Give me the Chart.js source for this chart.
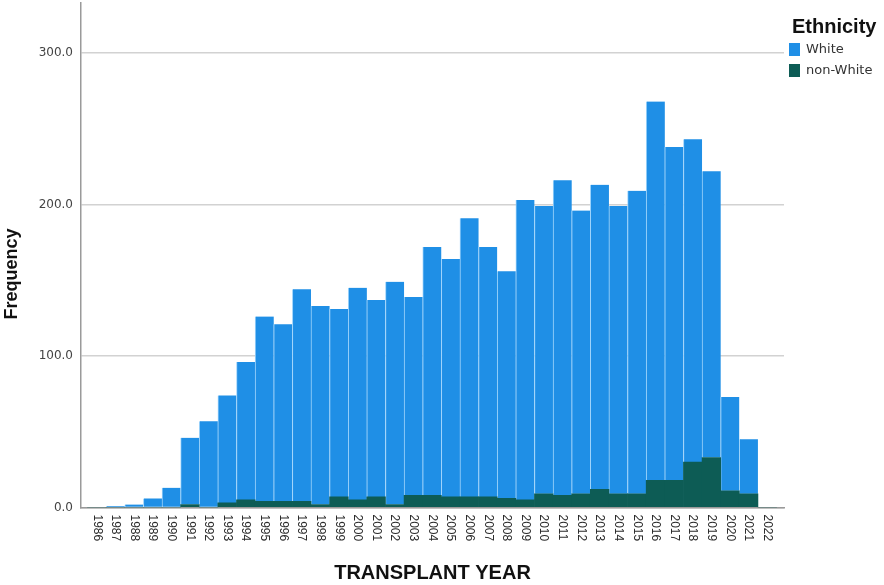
<!DOCTYPE html>
<html>
<head>
<meta charset="utf-8">
<script src="https://cdn.jsdelivr.net/npm/chart.js@4"></script>
<style>
  html, body { margin: 0; padding: 0; background: #fff; }
  #wrap { width: 884px; height: 585px; }
</style>
</head>
<body>
<div id="wrap"><canvas id="freqChart" width="884" height="585"></canvas></div>
<script>
const years = [1986, 1987, 1988, 1989, 1990, 1991, 1992, 1993, 1994, 1995, 1996, 1997, 1998,
  1999, 2000, 2001, 2002, 2003, 2004, 2005, 2006, 2007, 2008, 2009, 2010, 2011, 2012,
  2013, 2014, 2015, 2016, 2017, 2018, 2019, 2020, 2021, 2022];
const nonWhite = [0, 0, 0, 0, 0, 2, 0, 3, 5, 4, 4, 4, 2,
  7, 5, 7, 2, 8, 8, 7, 7, 7, 6, 5, 9, 8, 9,
  12, 9, 9, 18, 18, 30, 33, 11, 9, 0];
const white = [0, 1, 2, 6, 13, 44, 57, 71, 91, 122, 117, 140, 131,
  124, 140, 130, 147, 131, 164, 157, 184, 165, 150, 198, 190, 208, 187,
  201, 190, 200, 250, 220, 213, 189, 62, 36, 0];
const yTicks = [0, 100, 200, 300];

const FONT = '"Liberation Sans", Arial, sans-serif';
const WIDE = '"DejaVu Sans", Verdana, sans-serif';

// draws rotated year labels, axis titles and the legend box
const extras = {
  id: 'extras',
  afterDraw(chart) {
    const c = chart.ctx;
    const xs = chart.scales.x;
    const area = chart.chartArea;
    c.save();
    c.fillStyle = '#2a2a2a';
    c.font = '12px ' + FONT;
    c.textAlign = 'left';
    c.textBaseline = 'middle';
    years.forEach(yr => {
      const px = xs.getPixelForValue(yr);
      c.save();
      c.translate(px, area.bottom + 7);
      c.rotate(Math.PI / 2);
      c.fillText(String(yr), 0, 0);
      c.restore();
    });

    c.fillStyle = '#111';
    c.font = 'bold 20px ' + FONT;
    c.textAlign = 'center';
    c.fillText('TRANSPLANT YEAR', (area.left + area.right) / 2, 573);

    c.save();
    c.font = 'bold 18px ' + FONT;
    c.translate(12, 274);
    c.rotate(-Math.PI / 2);
    c.fillText('Frequency', 0, 0);
    c.restore();

    // legend
    c.textAlign = 'left';
    c.fillText('Ethnicity', 792, 27);
    const items = [chart.data.datasets[1], chart.data.datasets[0]];
    c.font = '13px ' + WIDE;
    items.forEach((ds, i) => {
      const y = 43 + i * 21;
      c.fillStyle = ds.backgroundColor;
      c.fillRect(789, y, 11, 13);
      c.fillStyle = '#333';
      c.fillText(ds.label, 806, y + 7);
    });
    c.restore();
  }
};

new Chart(document.getElementById('freqChart'), {
  type: 'bar',
  data: {
    datasets: [{
      label: 'non-White',
      data: years.map((yr, i) => ({ x: yr, y: nonWhite[i] })),
      backgroundColor: '#0d5c55',
      borderWidth: 0,
      barPercentage: 1,
      categoryPercentage: 1
    }, {
      label: 'White',
      data: years.map((yr, i) => ({ x: yr, y: white[i] })),
      backgroundColor: '#1f8fe6',
      borderColor: '#9fd4fb',
      borderWidth: { left: 1, right: 0, top: 0, bottom: 0 },
      borderSkipped: false,
      barPercentage: 1,
      categoryPercentage: 1
    }]
  },
  plugins: [extras],
  options: {
    responsive: false,
    animation: false,
    layout: { padding: { top: 3, right: 100, left: 0, bottom: 0 } },
    plugins: {
      legend: { display: false },
      tooltip: { enabled: false }
    },
    scales: {
      x: {
        type: 'linear',
        stacked: true,
        min: 1985.15,
        max: 2022.9,
        offset: false,
        ticks: { display: false, includeBounds: false, stepSize: 1 },
        grid: { display: false },
        border: { color: '#9a9a9a', width: 1.5 },
        afterFit: s => { s.height = 77.5; s.paddingLeft = 0; s.paddingRight = 0; }
      },
      y: {
        stacked: true,
        min: 0,
        max: 333,
        afterFit: s => { s.width = 81; s.paddingTop = 0; s.paddingBottom = 0; },
        afterBuildTicks: s => { s.ticks = yTicks.map(v => ({ value: v })); },
        ticks: {
          color: '#444',
          padding: 8,
          font: { size: 12, family: WIDE },
          callback: v => v.toFixed(1)
        },
        grid: { color: '#d2d2d2', lineWidth: 1.5, drawTicks: false },
        border: { color: '#9a9a9a', width: 1.5 }
      }
    }
  }
});
</script>
</body>
</html>
